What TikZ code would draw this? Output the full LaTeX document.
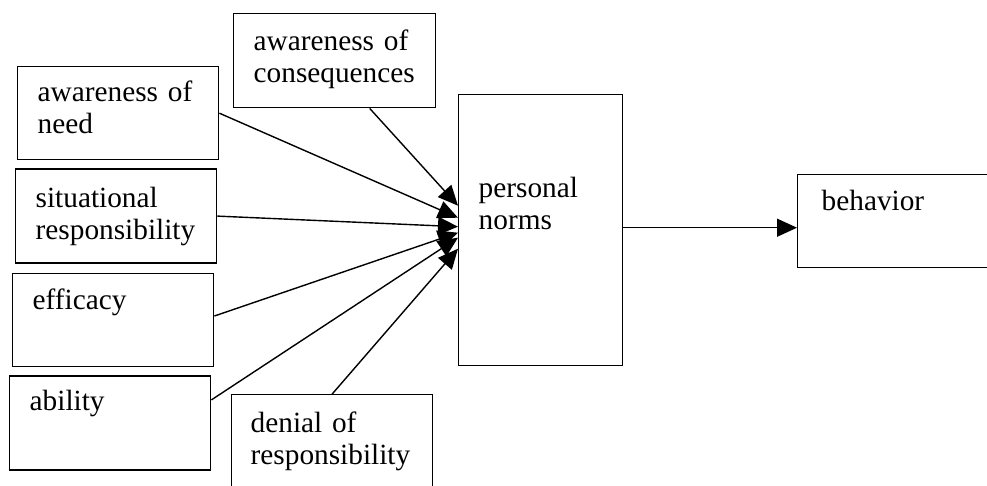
\documentclass[tikz,border=0pt]{standalone}
\usepackage{fontspec}
\setmainfont{Liberation Serif}
\usepackage{tikz}
\usetikzlibrary{arrows.meta,positioning}
\tikzstyle{factor} = [draw, line width=1.4pt, anchor=north west, align=left, inner xsep=20pt, inner ysep=0pt, text width=161pt, font=\fontsize{29.3}{32}\selectfont]
\tikzstyle{link} = [line width=1.4pt, -{Triangle[length=20pt,width=18pt]}]

\begin{document}
\begin{tikzpicture}[x=1pt, y=-1pt]
 \path [use as bounding box, clip] (0,0) rectangle (987,485);
 % nodes
    \node [factor, text height=35pt, text depth=58pt] (need) at (17,66) {awareness of\\ need};
    \node [factor, text height=38pt, text depth=56pt, below=8pt of need.south west, anchor=north west, xshift=-2pt] (situation) {situational\\ responsibility};
    \node [factor, text height=36pt, text depth=57pt, below=9pt of situation.south west, anchor=north west, xshift=-3pt] (efficacy) {efficacy};
    \node [factor, text height=35pt, text depth=59pt, below=8pt of efficacy.south west, anchor=north west, xshift=-3pt] (ability) {ability};
    \node [factor, text height=37pt, text depth=57pt, text width=162pt] (cons) at (233,13) {awareness of\\ consequences};
    \node [factor, text height=38pt, text depth=72pt, inner xsep=19pt, text width=163pt] (denial) at (231,394) {denial of\\ responsibility};
    \node [factor, text height=103pt, text depth=168pt, text width=124pt] (norms) at (458,94) {personal\\ norms};
    \node [factor, text height=36pt, text depth=57pt, inner xsep=24pt, text width=190pt] (behavior) at (797,174) {behavior};
    % edges
    \draw [link] ([xshift=35pt]cons.south) -- ([yshift=24.5pt]norms.west);
    \draw [link] (need.east) -- ([yshift=12.5pt]norms.west);
    \draw [link] (situation.east) -- ([yshift=3.5pt]norms.west);
    \draw [link] ([yshift=4pt]efficacy.east) -- ([yshift=-2.5pt]norms.west);
    \draw [link] ([yshift=23pt]ability.east) -- ([yshift=-7.5pt]norms.west);
    \draw [link] (denial.north) -- ([yshift=-18.5pt]norms.west);
    \draw [link] ([yshift=2.5pt]norms.east) -- ([yshift=2.5pt]norms.east -| behavior.west);

\end{tikzpicture}
\end{document}
